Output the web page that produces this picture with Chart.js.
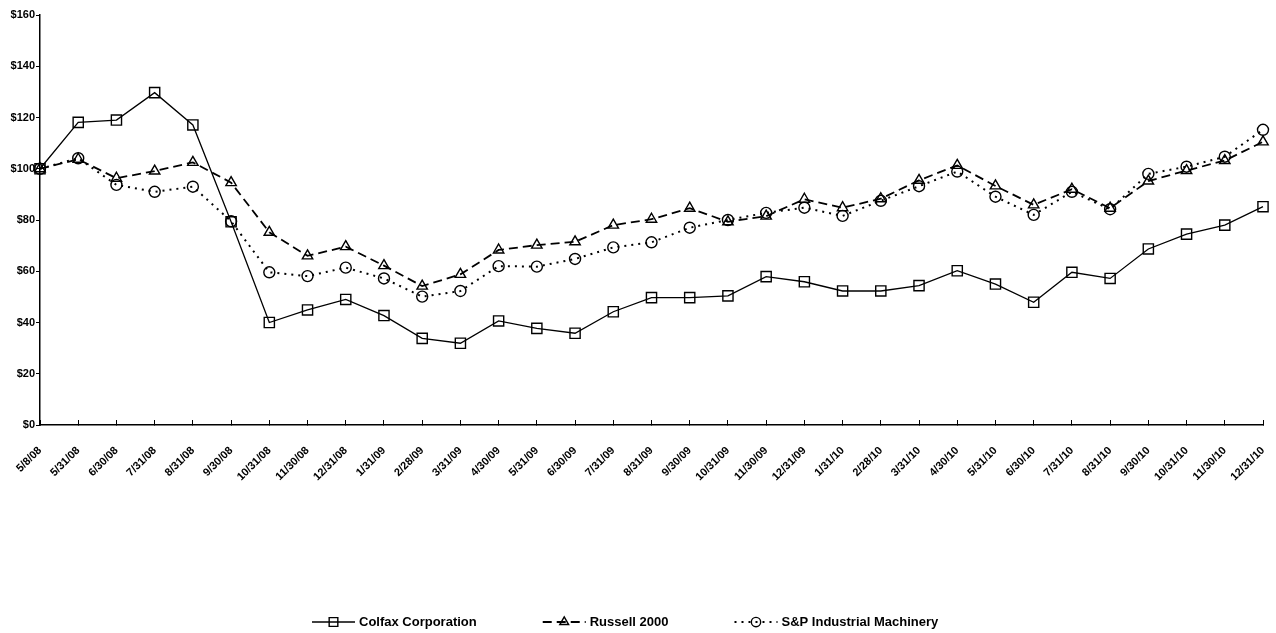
<!DOCTYPE html>
<html>
<head>
<meta charset="utf-8">
<script src="https://cdn.jsdelivr.net/npm/chart.js@4.4.1/dist/chart.umd.min.js"></script>
<style>
  html, body { margin: 0; padding: 0; background: #ffffff; }
  #wrap { width: 1276px; height: 633px; position: relative; }
</style>
</head>
<body>
<div id="wrap"><canvas id="c" width="1276" height="633"></canvas></div>
<script>
const categories = ['5/8/08','5/31/08','6/30/08','7/31/08','8/31/08','9/30/08','10/31/08','11/30/08','12/31/08','1/31/09','2/28/09','3/31/09','4/30/09','5/31/09','6/30/09','7/31/09','8/31/09','9/30/09','10/31/09','11/30/09','12/31/09','1/31/10','2/28/10','3/31/10','4/30/10','5/31/10','6/30/10','7/31/10','8/31/10','9/30/10','10/31/10','11/30/10','12/31/10'];

const colfaxValues = [100, 118.1, 119, 129.7, 117.1, 79.3, 40, 44.9, 49, 42.7, 33.8, 31.9, 40.6, 37.7, 35.8, 44.2, 49.7, 49.7, 50.4, 57.9, 55.9, 52.3, 52.3, 54.4, 60.2, 55, 47.9, 59.6, 57.2, 68.7, 74.5, 78, 85.2];
const russellValues = [100, 103.7, 96.3, 99.1, 102.5, 94.6, 75.2, 66, 69.6, 62.2, 54.2, 58.8, 68.3, 70.2, 71.5, 78, 80.3, 84.6, 79.3, 81.5, 88.1, 84.8, 88.3, 95.5, 101.3, 93.3, 85.9, 92, 84.6, 95.2, 99.3, 103.2, 110.5];
const spValues = [100, 104.1, 93.7, 91, 93, 79.5, 59.6, 58.1, 61.4, 57.2, 50.1, 52.3, 62, 61.8, 64.8, 69.3, 71.3, 77, 80, 82.8, 84.8, 81.6, 87.5, 93.2, 98.9, 89.1, 82, 91, 84.2, 98, 100.8, 104.7, 115.2];

const seriesNames = ['Colfax Corporation', 'Russell 2000', 'S&P Industrial Machinery'];
const yTickValues = [0, 20, 40, 60, 80, 100, 120, 140, 160];

const FONT = '"Liberation Sans", Arial, Helvetica, sans-serif';
Chart.defaults.font.family = FONT;
Chart.defaults.color = '#000';

function drawMarker(ctx, style, r, x, y) {
  ctx.beginPath();
  if (style === 'rect') {
    const s = r * Math.SQRT1_2;
    ctx.rect(x - s, y - s, 2 * s, 2 * s);
  } else if (style === 'triangle') {
    ctx.moveTo(x, y - r);
    ctx.lineTo(x + r * 0.866, y + r * 0.5);
    ctx.lineTo(x - r * 0.866, y + r * 0.5);
    ctx.closePath();
  } else {
    ctx.arc(x, y, r, 0, Math.PI * 2);
  }
  ctx.stroke();
}

const legendPlugin = {
  id: 'bottomLegend',
  afterDraw(chart) {
    const ctx = chart.ctx;
    const ds = chart.data.datasets;
    ctx.save();
    ctx.font = 'bold 13px ' + FONT;
    ctx.textBaseline = 'middle';
    ctx.fillStyle = '#000';
    ctx.strokeStyle = '#000';
    const lineLen = 43, gap = 4, itemGap = 66;
    const widths = ds.map(d => lineLen + gap + ctx.measureText(d.label).width);
    let x = 312;
    const y = 622;
    ds.forEach((d, i) => {
      ctx.lineWidth = d.borderWidth;
      ctx.setLineDash(d.borderDash || []);
      ctx.beginPath();
      ctx.moveTo(x, y);
      ctx.lineTo(x + lineLen, y);
      ctx.stroke();
      ctx.setLineDash([]);
      ctx.lineWidth = d.pointBorderWidth;
      drawMarker(ctx, d.pointStyle, d.pointRadius * 0.85, x + lineLen / 2, y);
      ctx.fillText(d.label, x + lineLen + gap, y);
      x += widths[i] + itemGap;
    });
    ctx.restore();
  }
};

new Chart(document.getElementById('c'), {
  type: 'line',
  data: {
    labels: categories,
    datasets: [
      {
        label: seriesNames[0],
        data: colfaxValues,
        borderColor: '#000',
        borderWidth: 1.3,
        pointStyle: 'rect',
        pointRadius: 7.2,
        pointBorderWidth: 1.4,
        pointBorderColor: '#000',
        pointBackgroundColor: 'rgba(0,0,0,0)',
        tension: 0,
        fill: false
      },
      {
        label: seriesNames[1],
        data: russellValues,
        borderColor: '#000',
        borderWidth: 1.8,
        borderDash: [9, 5],
        pointStyle: 'triangle',
        pointRadius: 6,
        pointBorderWidth: 1.4,
        pointBorderColor: '#000',
        pointBackgroundColor: 'rgba(0,0,0,0)',
        tension: 0,
        fill: false
      },
      {
        label: seriesNames[2],
        data: spValues,
        borderColor: '#000',
        borderWidth: 2,
        borderDash: [2, 5],
        pointStyle: 'circle',
        pointRadius: 5.5,
        pointBorderWidth: 1.4,
        pointBorderColor: '#000',
        pointBackgroundColor: 'rgba(0,0,0,0)',
        tension: 0,
        fill: false
      }
    ]
  },
  options: {
    responsive: false,
    animation: false,
    layout: { padding: { left: 0, right: 13, top: 15, bottom: 148 } },
    plugins: {
      legend: { display: false },
      tooltip: { enabled: false }
    },
    scales: {
      x: {
        offset: false,
        afterFit: (s) => { s.height = 60; s.paddingLeft = 0; s.paddingRight = 0; s.paddingTop = 0; s.paddingBottom = 0; },
        border: { display: true, color: '#000', width: 1.5 },
        grid: { display: true, drawOnChartArea: false, drawTicks: true, tickLength: -5, color: '#000', lineWidth: 1 },
        ticks: {
          autoSkip: false,
          maxRotation: 45,
          minRotation: 45,
          padding: 24,
          color: '#000',
          font: { size: 11, weight: 'bold' }
        }
      },
      y: {
        min: 0,
        max: 160,
        afterFit: (s) => { s.width = 40; s.paddingTop = 0; s.paddingBottom = 0; },
        afterBuildTicks: (s) => { s.ticks = yTickValues.map(v => ({ value: v })); },
        border: { display: true, color: '#000', width: 1.5 },
        grid: { display: true, drawOnChartArea: false, drawTicks: true, tickLength: 4, color: '#000', lineWidth: 1 },
        ticks: {
          padding: 1,
          color: '#000',
          font: { size: 11, weight: 'bold' },
          callback: (v) => '$' + v
        }
      }
    }
  },
  plugins: [legendPlugin]
});
</script>
</body>
</html>
